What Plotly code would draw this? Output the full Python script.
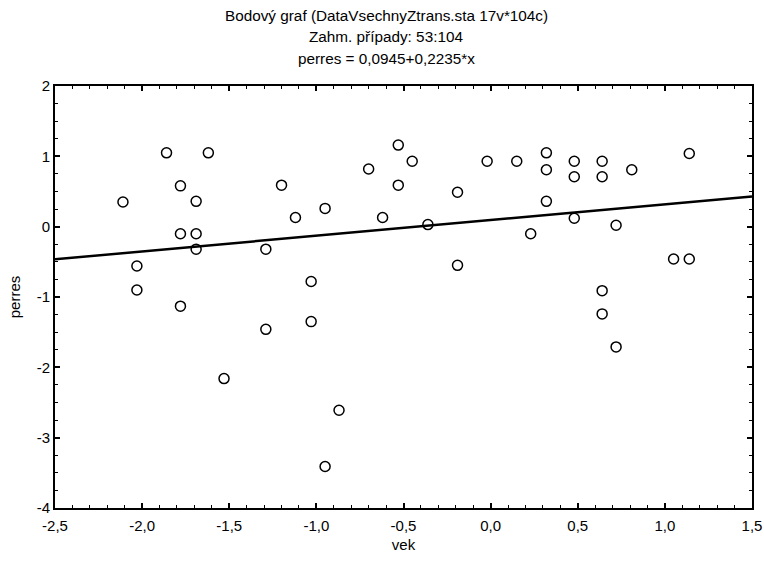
import plotly.graph_objects as go

# Data
vek = [-1.86, -1.62, -1.78, -1.20, -2.11, -1.69, -1.78, -1.69, -1.69, -1.29,
       -2.03, -2.03, -1.78, -1.29, -0.53, -0.45, -0.02, 0.15, -0.70, -0.53,
       -0.19, -1.12, -0.95, -0.62, -0.36, -0.19, -1.03, -1.03, 0.32, 0.32,
       0.48, 0.48, 0.64, 0.64, 0.81, 1.14, 0.32, 0.48, 0.23, 0.72,
       1.05, 1.14, 0.64, 0.64, 0.72, -1.53, -0.87, -0.95]
perres = [1.05, 1.05, 0.58, 0.59, 0.35, 0.36, -0.10, -0.10, -0.32, -0.32,
          -0.56, -0.90, -1.13, -1.46, 1.16, 0.93, 0.93, 0.93, 0.82, 0.59,
          0.49, 0.13, 0.26, 0.13, 0.03, -0.55, -0.78, -1.35, 1.05, 0.81,
          0.93, 0.71, 0.93, 0.71, 0.81, 1.04, 0.36, 0.12, -0.10, 0.02,
          -0.46, -0.46, -0.91, -1.24, -1.71, -2.16, -2.61, -3.41]

intercept = 0.0945
slope = 0.2235
x_range = [-2.5, 1.5]
y_range = [-4, 2]

x_tickvals = [-2.5, -2.0, -1.5, -1.0, -0.5, 0.0, 0.5, 1.0, 1.5]
x_ticktext = ["-2,5", "-2,0", "-1,5", "-1,0", "-0,5", "0,0", "0,5", "1,0", "1,5"]
y_tickvals = [-4, -3, -2, -1, 0, 1, 2]
y_ticktext = ["-4", "-3", "-2", "-1", "0", "1", "2"]

title_lines = ["Bodový graf (DataVsechnyZtrans.sta 17v*104c)",
               "Zahm. případy: 53:104",
               "perres = 0,0945+0,2235*x"]

fig = go.Figure()
fig.add_trace(go.Scatter(
    x=x_range, y=[intercept + slope * v for v in x_range],
    mode="lines", line=dict(color="black", width=2.5), showlegend=False,
    hoverinfo="skip"))
fig.add_trace(go.Scatter(
    x=vek, y=perres, mode="markers",
    marker=dict(symbol="circle-open", size=10, color="black",
                line=dict(width=1.5, color="black")),
    showlegend=False))

fam = "Liberation Sans, Arial, sans-serif"
font = dict(family=fam, size=15.3, color="black")

axis_common = dict(
    showgrid=False, zeroline=False, showline=True, linecolor="black",
    linewidth=2, mirror="ticks", ticks="inside", ticklen=5, tickwidth=1.5,
    tickcolor="black", tickfont=dict(family=fam, size=15, color="black"),
    automargin=False,
)

fig.update_xaxes(range=x_range, tickvals=x_tickvals, ticktext=x_ticktext,
                 ticklabelstandoff=3,
                 minor=dict(ticks="inside", dtick=0.1, ticklen=3,
                            tickwidth=1.2, tickcolor="black"),
                 title=dict(text="vek", font=dict(family=fam, size=15, color="black"),
                            standoff=6),
                 **axis_common)
fig.update_yaxes(range=y_range, tickvals=y_tickvals, ticktext=y_ticktext,
                 minor=dict(ticks="inside", dtick=0.25, ticklen=3,
                            tickwidth=1.2, tickcolor="black"),
                 title=dict(text="perres", font=dict(family=fam, size=15, color="black"),
                            standoff=12),
                 **axis_common)

for i, line in enumerate(title_lines):
    fig.add_annotation(text=line, xref="paper", yref="paper", x=0.475,
                       y=1, yshift=71 - i * 21.5, yanchor="middle",
                       showarrow=False, font=font)

fig.update_layout(
    width=764, height=563,
    margin=dict(l=55, r=12, t=86, b=55),
    paper_bgcolor="white", plot_bgcolor="white",
    font=font,
)

fig.write_html("out.html",
               config={"displayModeBar": False},
               post_script="document.body.style.margin='0';"
                           "document.body.style.overflow='hidden';")
